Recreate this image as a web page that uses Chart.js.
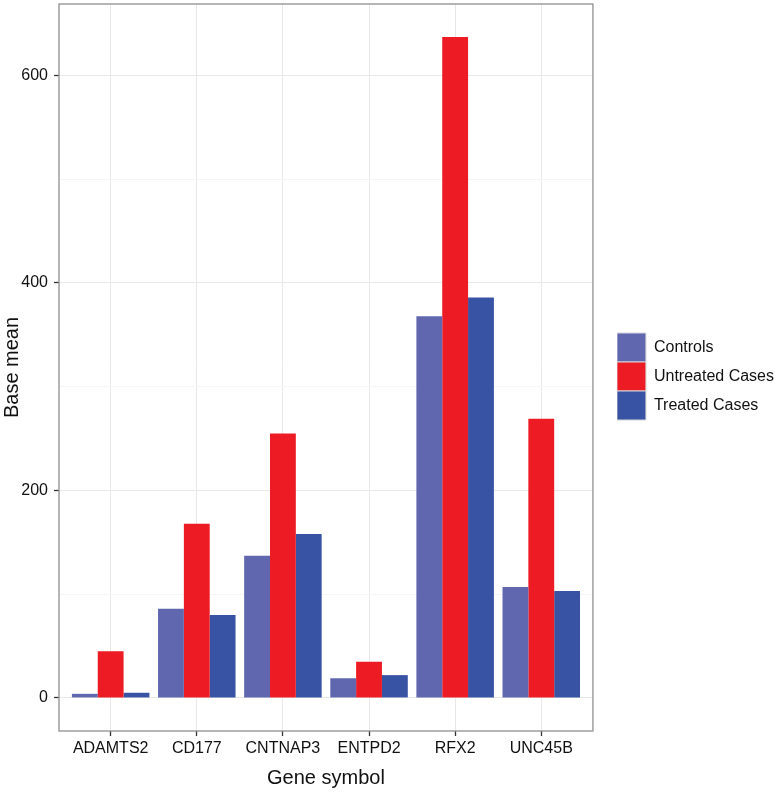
<!DOCTYPE html>
<html>
<head>
<meta charset="utf-8">
<script src="https://cdn.jsdelivr.net/npm/chart.js@4.4.1/dist/chart.umd.min.js"></script>
<style>
  html, body { margin: 0; padding: 0; background: #fff; }
  #wrap { width: 778px; height: 794px; }
</style>
</head>
<body>
<div id="wrap"><canvas id="baseMeanChart"></canvas></div>
<script>
// data
const genes = ["ADAMTS2", "CD177", "CNTNAP3", "ENTPD2", "RFX2", "UNC45B"];
const controls = [4, 86, 137, 19, 368, 107];
const untreated = [45, 168, 255, 35, 637, 269];
const treated = [5, 80, 158, 22, 386, 103];
const yTicks = [0, 200, 400, 600];
const yGrid = [0, 100, 200, 300, 400, 500, 600];

const FONT = '"Liberation Sans", Arial, Helvetica, sans-serif';
const LEGEND_GAP = 18;   // extra room reserved left of the legend
const LEGEND_SHIFT = 24; // how far the legend items move right

// ggplot style 5% expansion of the value axis
const topVal = Math.max(...controls, ...untreated, ...treated);
const yMin = -0.05 * topVal;
const yMax = 1.05 * topVal;

function points(values) {
  return values.map((v, i) => ({ x: i, y: v }));
}

// grey frame round the panel
const panelBorder = {
  id: "panelBorder",
  afterDatasetsDraw(chart) {
    const { ctx, chartArea: a } = chart;
    ctx.save();
    ctx.strokeStyle = "#8f8f8f";
    ctx.lineWidth = 1.3;
    ctx.strokeRect(a.left, a.top, a.right - a.left, a.bottom - a.top);
    ctx.restore();
  }
};

// leave some room between panel and legend
const legendGap = {
  id: "legendGap",
  beforeLayout(chart) {
    const lg = chart.legend;
    if (lg && !lg._gapPatched) {
      const fit = lg.fit.bind(lg);
      lg.fit = function () { fit(); this.width += LEGEND_GAP; };
      lg._gapPatched = true;
    }
  },
  afterLayout(chart) {
    const lg = chart.legend;
    if (lg) {
      lg.left += LEGEND_SHIFT;
      lg.right += LEGEND_SHIFT;
    }
  }
};

const ctx = document.getElementById("baseMeanChart").getContext("2d");

new Chart(ctx, {
  type: "bar",
  data: {
    datasets: [
      { label: "Controls", data: points(controls), backgroundColor: "#6167AF" },
      { label: "Untreated Cases", data: points(untreated), backgroundColor: "#ED1C24" },
      { label: "Treated Cases", data: points(treated), backgroundColor: "#3953A4" }
    ]
  },
  options: {
    responsive: true,
    maintainAspectRatio: false,
    animation: false,
    categoryPercentage: 0.9,
    barPercentage: 1.0,
    layout: { padding: { top: 4, left: 0, right: 0, bottom: 0 } },
    plugins: {
      tooltip: { enabled: false },
      legend: {
        position: "right",
        align: "center",
        fullSize: false,
        title: { display: true, text: " ", padding: 0, font: { size: 15, lineHeight: 1.2 } },
        labels: {
          boxWidth: 29,
          boxHeight: 29,
          padding: 0,
          color: "#111",
          font: { family: FONT, size: 16 },
          generateLabels(chart) {
            return Chart.defaults.plugins.legend.labels.generateLabels(chart).map(l => ({
              ...l, strokeStyle: "#d6d6d6", lineWidth: 1
            }));
          }
        }
      }
    },
    scales: {
      x: {
        type: "linear",
        position: "bottom",
        offset: false,
        min: -0.6,
        max: genes.length - 0.4,
        afterBuildTicks(s) { s.ticks = genes.map((g, i) => ({ value: i })); },
        afterFit(s) { s.height = 63; },
        border: { display: false },
        grid: { offset: false, color: "#E8E8E8", lineWidth: 1, tickLength: 5, tickColor: "#333", tickWidth: 1.3 },
        ticks: {
          autoSkip: false,
          maxRotation: 0,
          padding: 3,
          color: "#111",
          font: { family: FONT, size: 16 },
          callback: v => genes[v] ?? ""
        },
        title: {
          display: true,
          text: "Gene symbol",
          color: "#111",
          font: { family: FONT, size: 20, lineHeight: 1.2 },
          padding: { top: 4, bottom: 4 }
        }
      },
      y: {
        position: "left",
        min: yMin,
        max: yMax,
        afterBuildTicks(s) { s.ticks = yGrid.map(v => ({ value: v })); },
        afterFit(s) {
          s.width = 59;
          s.paddingTop = 0;
          s.paddingBottom = 0;
        },
        border: { display: false },
        grid: {
          color: c => (c.tick && yTicks.includes(c.tick.value)) ? "#E8E8E8" : "#F5F5F5",
          lineWidth: 1,
          tickLength: 5,
          tickColor: c => (c.tick && yTicks.includes(c.tick.value)) ? "#333" : "rgba(0,0,0,0)",
          tickWidth: 1.3
        },
        ticks: {
          padding: 6,
          color: "#111",
          font: { family: FONT, size: 16 },
          callback: v => yTicks.includes(v) ? String(v) : ""
        },
        title: {
          display: true,
          text: "Base mean",
          color: "#111",
          font: { family: FONT, size: 20, lineHeight: 1.0 },
          padding: { top: 2, bottom: 0 }
        }
      }
    }
  },
  plugins: [panelBorder, legendGap]
});
</script>
</body>
</html>
